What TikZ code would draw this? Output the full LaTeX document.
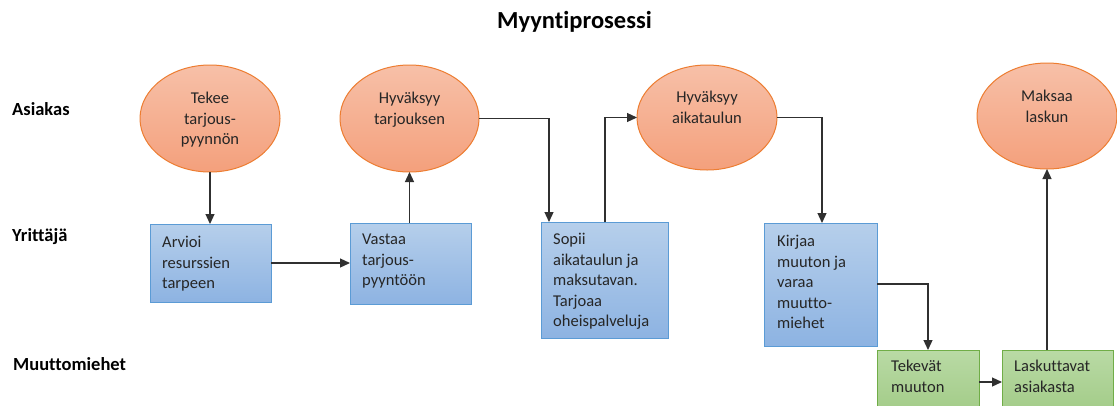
\documentclass[tikz,border=0pt]{standalone}
\usepackage{fontspec}
\setmainfont[Ligatures=NoCommon]{Carlito}
\usetikzlibrary{shapes.geometric,arrows.meta,calc}
\definecolor{ellborder}{HTML}{ED7D31}
\definecolor{elltop}{HTML}{F7C0A8}
\definecolor{ellbot}{HTML}{F4A07C}
\definecolor{blueborder}{HTML}{5B9BD5}
\definecolor{bluetop}{HTML}{B6CFEB}
\definecolor{bluebot}{HTML}{8DB3E2}
\definecolor{greenborder}{HTML}{70AD47}
\definecolor{greentop}{HTML}{B9DAA5}
\definecolor{greenbot}{HTML}{A2CB87}
\definecolor{txt}{HTML}{262626}
\definecolor{arrowcol}{HTML}{303030}
\tikzset{
  ellbox/.style={ellipse, draw=ellborder, line width=1pt, top color=elltop, bottom color=ellbot, inner sep=0pt, outer sep=0pt},
  bluebox/.style={rectangle, draw=blueborder, line width=1pt, top color=bluetop, bottom color=bluebot, inner sep=0pt, outer sep=0pt},
  greenbox/.style={rectangle, draw=greenborder, line width=1pt, top color=greentop, bottom color=greenbot, inner sep=0pt, outer sep=0pt},
  bodytext/.style={inner sep=0pt, text=txt, font=\fontsize{16.5}{20.5}\selectfont},
  etext/.style={bodytext, align=center, anchor=north},
  rtext/.style={bodytext, align=left, anchor=north west},
  lane/.style={anchor=west, inner sep=0pt, font=\bfseries\fontsize{18.5}{22}\selectfont},
  flow/.style={draw=arrowcol, line width=1.2pt, -{Triangle[length=10pt,width=9pt]}}
}
\begin{document}
\begin{tikzpicture}[x=1pt,y=-1pt]
\useasboundingbox (0,0) rectangle (1117,405);
\fill[white] (0,0) rectangle (1117,405);

\node[inner sep=0pt, font=\bfseries\fontsize{24.5}{28}\selectfont] (title) at (574.5,22) {Myyntiprosessi};

\node[lane] (laneA) at (12,109) {Asiakas};
\node[lane] (laneY) at (12,237) {Yrittäjä};
\node[lane] (laneM) at (13,364) {Muuttomiehet};

% ellipses
\node[ellbox, minimum width=140pt, minimum height=107pt] (e1) at (210,118.5) {};
\node[ellbox, minimum width=139pt, minimum height=107pt] (e2) at (409.5,118.5) {};
\node[ellbox, minimum width=140pt, minimum height=105pt] (e3) at (707,117.5) {};
\node[ellbox, minimum width=140pt, minimum height=106pt] (e4) at (1047,116) {};

\node[etext] (e1t) at ($(e1.north)+(0,27)$) {Tekee\\tarjous-\\pyynnön};
\node[etext] (e2t) at ($(e2.north)+(0,27)$) {Hyväksyy\\tarjouksen};
\node[etext] (e3t) at ($(e3.north)+(0,26)$) {Hyväksyy\\aikataulun};
\node[etext] (e4t) at ($(e4.north)+(0,27)$) {Maksaa\\laskun};

% rectangles
\node[bluebox, minimum width=121pt, minimum height=78pt] (r1) at (210.5,263) {};
\node[bluebox, minimum width=121pt, minimum height=81pt] (r2) at (410.5,263.5) {};
\node[bluebox, minimum width=127pt, minimum height=116pt] (r3) at (604.5,280) {};
\node[bluebox, minimum width=113pt, minimum height=123pt] (r4) at (820.5,284.5) {};
\node[greenbox, minimum width=102pt, minimum height=64pt] (g1) at (928,382) {};
\node[greenbox, minimum width=111pt, minimum height=64pt] (g2) at (1057.5,382) {};

\node[rtext] (r1t) at ($(r1.north west)+(12,12)$) {Arvioi\\resurssien\\tarpeen};
\node[rtext] (r2t) at ($(r2.north west)+(12,11)$) {Vastaa\\tarjous-\\pyyntöön};
\node[rtext] (r3t) at ($(r3.north west)+(12,11)$) {Sopii\\aikataulun ja\\maksutavan.\\Tarjoaa\\oheispalveluja};
\node[rtext] (r4t) at ($(r4.north west)+(13,12)$) {Kirjaa\\muuton ja\\varaa\\muutto-\\miehet};
\node[rtext] (g1t) at ($(g1.north west)+(14,10)$) {Tekevät\\muuton};
\node[rtext] (g2t) at ($(g2.north west)+(12,10)$) {Laskuttavat\\asiakasta};

% connectors
\draw[flow] (e1.south) -- (e1.south |- r1.north);
\draw[flow] (r1.east) -- (r1.east -| r2.west);
\draw[flow] (e2.south |- r2.north) -- (e2.south);
\draw[flow] (e2.east) -| ($(r3.north west)+(8,0)$);
\draw[flow] ($(r3.north west)+(64,0)$) |- (e3.west);
\draw[flow] (e3.east) -| ($(r4.north west)+(58,0)$);
\draw[flow] ($(r4.north east)+(0,61)$) -| (g1.north);
\draw[flow] (g1.east) -- (g2.west);
\draw[flow] (e4.south |- g2.north) -- (e4.south);
\end{tikzpicture}
\end{document}
